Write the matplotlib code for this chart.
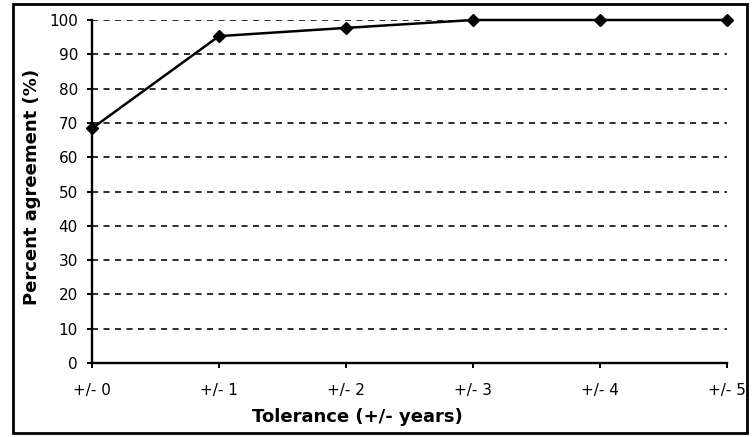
import matplotlib
matplotlib.use("Agg")
import matplotlib.pyplot as plt
from matplotlib.patches import Rectangle

categories = ["+/- 0", "+/- 1", "+/- 2", "+/- 3", "+/- 4", "+/- 5"]
agreement = [68.4, 95.3, 97.7, 100, 100, 100]
yticks = [0, 10, 20, 30, 40, 50, 60, 70, 80, 90, 100]

plt.rcParams['font.family'] = ['DejaVu Sans']

W, H = 756, 437
fig = plt.figure(figsize=(W / 100, H / 100), dpi=100)
ax = fig.add_axes([92 / W, 1 - 363 / H, (727 - 92) / W, (363 - 20) / H])

x = list(range(len(categories)))
ax.plot(x, agreement, color='black', lw=1.8, marker='D', ms=6.2,
        markerfacecolor='black', markeredgecolor='black', mew=1,
        clip_on=False, zorder=5)

ax.set_xlim(0, len(categories) - 1)
ax.set_ylim(0, 100)
ax.set_yticks(yticks)
ax.set_yticklabels([str(v) for v in yticks])
ax.set_xticks(x)
ax.set_xticklabels(categories)

for v in yticks[1:]:
    ax.axhline(v, color='black', lw=1.15, ls=(0, (3.8, 3.4)), zorder=1)

for s in ['top', 'right']:
    ax.spines[s].set_visible(False)
for s in ['left', 'bottom']:
    ax.spines[s].set_linewidth(1.7)
    ax.spines[s].set_color('black')

ax.tick_params(axis='both', direction='out', length=3.6, width=1.4, colors='black',
               labelsize=11)
ax.tick_params(axis='x', pad=10.5)
ax.tick_params(axis='y', pad=6.5)

ax.set_xlabel("Tolerance (+/- years)", fontsize=13, fontweight='bold')
ax.set_ylabel("Percent agreement (%)", fontsize=13, fontweight='bold')
ax.xaxis.label.set_va('center')
ax.yaxis.label.set_va('center')
ax.xaxis.set_label_coords((357 - 92) / 635, (363 - 417) / 343)
ax.yaxis.set_label_coords((32.5 - 92) / 635, (363 - 187) / 343)

fig.patches.append(Rectangle((13 / W, 1 - 433 / H), (747 - 13) / W, (433 - 4) / H,
                             transform=fig.transFigure, fill=False,
                             edgecolor='black', lw=2, zorder=10))

fig.savefig("out.png", dpi=100)
